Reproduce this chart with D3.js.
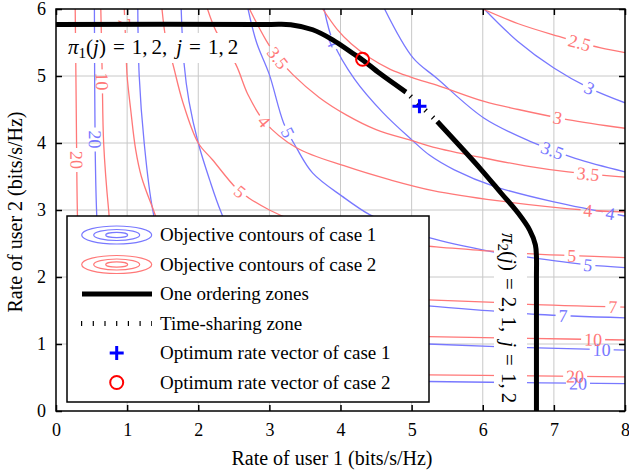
<!DOCTYPE html>
<html>
<head>
<meta charset="utf-8">
<script src="https://cdn.jsdelivr.net/npm/d3@7"></script>
<style>
body { margin: 0; background: #fff; }
svg text { font-family: "Liberation Serif", "Times New Roman", serif !important; }
</style>
</head>
<body>
<svg id="chart" width="629" height="474"></svg>
<script>
// ticks
const xTicks = [0, 1, 2, 3, 4, 5, 6, 7, 8];
const yTicks = [0, 1, 2, 3, 4, 5, 6];

// case 1 objective contours (blue)
const blue3 = [[6.02,6.0],[6.49,5.52],[7.0,5.12],[7.5,4.82],[8.0,4.6]];
const blue35 = [[4.62,6.0],[5.02,5.27],[5.35,4.97],[6.02,4.37],[6.7,4.01],[7.3,3.77],[8.0,3.57]];
const blue4 = [[3.77,6.0],[3.9,5.5],[4.2,4.95],[4.6,4.45],[5.0,4.05],[5.25,3.82],[5.6,3.6],[6.17,3.35],[7.0,3.12],[8.0,2.91]];
const blue5 = [[2.7,6.0],[2.82,5.5],[3.0,5.02],[3.2,4.3],[3.38,3.93],[3.61,3.55],[4.03,3.2],[4.41,2.93],[4.8,2.75],[5.23,2.59],[6.12,2.38],[6.61,2.3],[7.48,2.18],[8.0,2.14]];
const blue7 = [[1.76,6.0],[1.8,5.19],[1.87,4.62],[2.0,4.0],[2.16,3.45],[2.32,2.97],[2.55,2.45],[3.0,2.0],[4.0,1.72],[5.23,1.57],[6.17,1.49],[6.78,1.44],[8.0,1.39]];
const blue10 = [[1.15,6.0],[1.17,5.0],[1.24,4.0],[1.36,3.0],[1.6,2.0],[2.2,1.35],[3.5,1.06],[5.23,1.0],[6.64,0.945],[8.0,0.91]];
const blue20 = [[0.54,6.0],[0.55,4.0],[0.57,3.0],[0.62,2.0],[0.8,1.05],[1.5,0.6],[3.0,0.47],[5.23,0.44],[6.83,0.42],[8.0,0.41]];
const case1Levels = [3, 3.5, 4, 5, 7, 10, 20];
const case1Lines = [blue3, blue35, blue4, blue5, blue7, blue10, blue20];
const case1Labels = [[3,7.5,4.82],[3.5,6.97,3.87],[4,7.79,2.93],[4,3.87,5.49],[5,7.48,2.18],[5,3.24,4.15],
  [7,7.13,1.43],[10,7.67,0.91],[20,7.34,0.41],[20,0.55,4.05]];

// case 2 objective contours (red)
const red25 = [[6.0,6.0],[6.5,5.78],[7.07,5.59],[7.36,5.5],[7.66,5.42],[8.0,5.35]];
const red3 = [[3.75,6.0],[3.95,5.7],[4.15,5.48],[4.4,5.28],[4.7,5.1],[5.0,4.98],[5.39,4.85],[6.02,4.62],[6.5,4.5],[7.19,4.35],[8.0,4.22]];
const red35 = [[2.72,6.0],[2.95,5.54],[3.12,5.27],[3.33,5.02],[3.7,4.68],[4.08,4.42],[4.5,4.2],[5.02,4.03],[5.3,3.94],[6.0,3.78],[6.6,3.66],[7.2,3.57],[8.0,3.49]];
const red4 = [[2.13,6.0],[2.25,5.67],[2.53,5.17],[2.7,4.72],[2.93,4.32],[3.38,3.93],[4.08,3.65],[4.7,3.45],[5.3,3.29],[6.2,3.14],[7.44,3.0],[8.0,2.97]];
const red5 = [[1.49,6.0],[1.55,5.52],[1.64,5.19],[1.78,4.62],[2.0,4.0],[2.2,3.75],[2.53,3.33],[2.71,3.18],[3.0,3.0],[3.3,2.86],[3.8,2.7],[4.5,2.56],[5.23,2.46],[6.08,2.39],[6.61,2.35],[7.25,2.32],[8.0,2.29]];
const red7 = [[0.96,6.0],[0.98,5.5],[1.0,5.0],[1.05,4.5],[1.12,3.9],[1.2,3.5],[1.37,3.0],[1.6,2.4],[2.2,1.9],[3.5,1.72],[5.23,1.66],[6.17,1.62],[6.64,1.59],[8.0,1.55]];
const red10 = [[0.63,6.0],[0.65,5.0],[0.67,4.0],[0.74,3.0],[0.85,2.0],[1.3,1.35],[2.5,1.15],[5.23,1.11],[6.64,1.085],[8.0,1.06]];
const red20 = [[0.27,6.0],[0.28,5.0],[0.29,3.9],[0.3,3.0],[0.33,2.0],[0.45,1.0],[1.0,0.62],[3.0,0.55],[5.23,0.54],[8.0,0.51]];
const case2Levels = [2.5, 3, 3.5, 4, 5, 7, 10, 20];
const case2Lines = [red25, red3, red35, red4, red5, red7, red10, red20];
const case2Labels = [[2.5,7.36,5.49],[3,7.05,4.37],[3.5,7.48,3.52],[3.5,3.12,5.27],[4,7.48,2.97],[4,2.93,4.32],
  [5,7.25,2.33],[5,2.57,3.25],[7,7.83,1.56],[7,0.97,5.8],[10,7.55,1.07],[10,0.64,4.92],[20,7.3,0.5],[20,0.29,3.75]];

// rate region boundary
const ordering1 = [[0,5.77],[3.0,5.77],[3.3,5.765],[3.61,5.69],[3.89,5.54],[4.17,5.34],[4.31,5.24],[4.55,5.04],[4.92,4.76]];
const timeSharing = [[4.92,4.76],[5.36,4.32]];
const ordering2 = [[5.36,4.32],[5.98,3.6],[6.26,3.25],[6.5,2.95],[6.66,2.7],[6.74,2.48],[6.755,2.3],[6.755,2.0],[6.755,0]];
const optCase1 = [5.11, 4.55];
const optCase2 = [4.31, 5.25];

const legendNames = ["Objective contours of case 1", "Objective contours of case 2", "One ordering zones",
  "Time-sharing zone", "Optimum rate vector of case 1", "Optimum rate vector of case 2"];

const W = 629, H = 474;
const blueCol = "rgb(120,120,255)", redCol = "rgb(255,120,120)";
const serif = '"Liberation Serif", "Times New Roman", serif';

const x = d3.scaleLinear().domain([0, 8]).range([56, 625]);
const y = d3.scaleLinear().domain([0, 6]).range([411, 9]);

const svg = d3.select("#chart");
const defs = svg.append("defs");
defs.append("clipPath").attr("id", "plotClip")
  .append("rect")
  .attr("x", x(0)).attr("y", y(6))
  .attr("width", x(8) - x(0)).attr("height", y(0) - y(6));

// grid
const grid = svg.append("g").attr("stroke", "#c8c8c8").attr("stroke-width", 1);
grid.selectAll("line.gx").data(xTicks.slice(1, -1)).join("line").attr("class", "gx")
  .attr("x1", d => x(d)).attr("x2", d => x(d)).attr("y1", y(0)).attr("y2", y(6));
grid.selectAll("line.gy").data(yTicks.slice(1, -1)).join("line").attr("class", "gy")
  .attr("y1", d => y(d)).attr("y2", d => y(d)).attr("x1", x(0)).attr("x2", x(8));

// contours with inline labels (line broken under its own label)
const curve = d3.line().x(d => x(d[0])).y(d => y(d[1])).curve(d3.curveCatmullRom.alpha(0.5));
const contourG = svg.append("g").attr("clip-path", "url(#plotClip)");
const labelG = svg.append("g");

function drawCase(levels, lines, labels, color, tag) {
  lines.forEach((pts, i) => {
    const lev = levels[i];
    const path = contourG.append("path")
      .attr("d", curve(pts))
      .attr("fill", "none")
      .attr("stroke", color)
      .attr("stroke-width", 1.3);
    const node = path.node();
    const total = node.getTotalLength();
    const mine = labels.filter(l => l[0] === lev);
    if (!mine.length) return;
    const mask = defs.append("mask").attr("id", `m-${tag}-${i}`)
      .attr("maskUnits", "userSpaceOnUse")
      .attr("x", 0).attr("y", 0).attr("width", W).attr("height", H);
    mask.append("rect").attr("width", W).attr("height", H).attr("fill", "#fff");
    mine.forEach(l => {
      const px = x(l[1]), py = y(l[2]);
      let best = 0, bd = Infinity;
      for (let s = 0; s <= total; s += 0.5) {
        const p = node.getPointAtLength(s);
        const d = (p.x - px) ** 2 + (p.y - py) ** 2;
        if (d < bd) { bd = d; best = s; }
      }
      const p = node.getPointAtLength(best);
      const a = node.getPointAtLength(Math.max(0, best - 5));
      const b = node.getPointAtLength(Math.min(total, best + 5));
      const ang = Math.atan2(b.y - a.y, b.x - a.x) * 180 / Math.PI;
      const tr = `translate(${p.x},${p.y}) rotate(${ang})`;
      const t = labelG.append("text")
        .attr("transform", tr)
        .attr("text-anchor", "middle")
        .attr("dy", "0.35em")
        .attr("font-size", 18)
        .attr("fill", color)
        .text(lev);
      const w = t.node().getComputedTextLength();
      mask.append("rect")
        .attr("x", -w / 2 - 3).attr("y", -7)
        .attr("width", w + 6).attr("height", 14)
        .attr("transform", tr)
        .attr("fill", "#000");
    });
    path.attr("mask", `url(#m-${tag}-${i})`);
  });
}
drawCase(case1Levels, case1Lines, case1Labels, blueCol, "b");
drawCase(case2Levels, case2Lines, case2Labels, redCol, "r");

// white boxes behind the two annotations
svg.append("rect").attr("x", 66).attr("y", 33).attr("width", 174).attr("height", 30).attr("fill", "#fff");
svg.append("rect").attr("x", 494).attr("y", 228).attr("width", 33).attr("height", 177).attr("fill", "#fff");

// boundary
const bound = svg.append("g").attr("clip-path", "url(#plotClip)");
bound.append("path").attr("d", curve(ordering1))
  .attr("fill", "none").attr("stroke", "#000").attr("stroke-width", 5);
bound.append("path").attr("d", curve(ordering2))
  .attr("fill", "none").attr("stroke", "#000").attr("stroke-width", 5);
bound.append("path").attr("d", d3.line().x(d => x(d[0])).y(d => y(d[1]))(timeSharing))
  .attr("fill", "none").attr("stroke", "#000").attr("stroke-width", 5)
  .attr("stroke-dasharray", "1.2 9").attr("stroke-dashoffset", -6);

// optima
svg.append("path")
  .attr("transform", `translate(${x(optCase1[0])},${y(optCase1[1])})`)
  .attr("d", "M-7,0H7M0,-7V7")
  .attr("stroke", "#0000ff").attr("stroke-width", 3).attr("fill", "none");
svg.append("circle")
  .attr("cx", x(optCase2[0])).attr("cy", y(optCase2[1])).attr("r", 6.5)
  .attr("stroke", "#ff0000").attr("stroke-width", 2).attr("fill", "none");

// annotations: pi_k(j) = ..., j = 1, 2
function mathText(g, sub, vals) {
  const t = g.append("text").attr("font-size", 21).attr("fill", "#000");
  t.append("tspan").attr("font-style", "italic").text("π");
  t.append("tspan").attr("font-size", 15).attr("dy", 4).text(sub);
  t.append("tspan").attr("dy", -4).text("(");
  t.append("tspan").attr("font-style", "italic").text("j");
  t.append("tspan").text(")");
  t.append("tspan").attr("dx", 7).text("=");
  t.append("tspan").attr("dx", 7).text(vals[0] + ",");
  t.append("tspan").attr("dx", 4).text(vals[1] + ",");
  t.append("tspan").attr("dx", 9).attr("font-style", "italic").text("j");
  t.append("tspan").attr("dx", 7).text("=");
  t.append("tspan").attr("dx", 7).text("1,");
  t.append("tspan").attr("dx", 4).text("2");
  return t;
}
mathText(svg.append("g").attr("transform", "translate(68,54)"), "1", ["1", "2"]);
mathText(svg.append("g").attr("transform", "translate(502,233) rotate(90)"), "2", ["2", "1"]);

// legend
const lg = svg.append("g");
lg.append("rect").attr("x", 67).attr("y", 216).attr("width", 362).attr("height", 186)
  .attr("fill", "#fff").attr("stroke", "#000").attr("stroke-width", 1.5);
const rowY = i => 235 + i * 29.5;
const iconX = 116.7;
[[blueCol, 0], [redCol, 1]].forEach(([c, i]) => {
  [[35, 9], [23, 5.5], [11, 2.7]].forEach(([rx, ry]) => {
    lg.append("ellipse").attr("cx", iconX).attr("cy", rowY(i)).attr("rx", rx).attr("ry", ry)
      .attr("fill", "none").attr("stroke", c).attr("stroke-width", 1.2);
  });
});
lg.append("line").attr("x1", 82).attr("x2", 152).attr("y1", rowY(2)).attr("y2", rowY(2))
  .attr("stroke", "#000").attr("stroke-width", 5);
lg.append("line").attr("x1", 81).attr("x2", 152).attr("y1", rowY(3)).attr("y2", rowY(3))
  .attr("stroke", "#000").attr("stroke-width", 5).attr("stroke-dasharray", "1.2 10.5");
lg.append("path").attr("transform", `translate(${iconX},${rowY(4)})`)
  .attr("d", "M-7,0H7M0,-7V7").attr("stroke", "#0000ff").attr("stroke-width", 3);
lg.append("circle").attr("cx", iconX).attr("cy", rowY(5)).attr("r", 6.5)
  .attr("fill", "none").attr("stroke", "#ff0000").attr("stroke-width", 2);
lg.selectAll("text.leg").data(legendNames).join("text").attr("class", "leg")
  .attr("x", 160).attr("y", (d, i) => rowY(i) + 6)
  .attr("font-size", 19).attr("fill", "#000")
  .text(d => d);

// frame and axes
svg.append("rect").attr("x", x(0)).attr("y", y(6))
  .attr("width", x(8) - x(0)).attr("height", y(0) - y(6))
  .attr("fill", "none").attr("stroke", "#000").attr("stroke-width", 1.5);

function styleAxis(g) {
  g.select(".domain").remove();
  g.selectAll(".tick line").attr("stroke", "#000").attr("stroke-width", 1.5);
  g.attr("font-family", serif).attr("font-size", 18);
  g.selectAll(".tick text").attr("fill", "#000").style("font-family", serif).attr("font-size", 18);
}
svg.append("g").attr("transform", `translate(0,${y(0)})`)
  .call(d3.axisBottom(x).tickValues(xTicks).tickFormat(d3.format("d")).tickSize(-6).tickPadding(12))
  .call(styleAxis);
svg.append("g").attr("transform", `translate(0,${y(6)})`)
  .call(d3.axisTop(x).tickValues(xTicks).tickSize(-6).tickFormat("")).call(styleAxis);
svg.append("g").attr("transform", `translate(${x(0)},0)`)
  .call(d3.axisLeft(y).tickValues(yTicks).tickFormat(d3.format("d")).tickSize(-6).tickPadding(10))
  .call(styleAxis);
svg.append("g").attr("transform", `translate(${x(8)},0)`)
  .call(d3.axisRight(y).tickValues(yTicks).tickSize(-6).tickFormat("")).call(styleAxis);

svg.append("text").attr("x", 332).attr("y", 465).attr("text-anchor", "middle")
  .attr("font-size", 20).text("Rate of user 1 (bits/s/Hz)");
svg.append("text").attr("transform", "translate(22,212) rotate(-90)").attr("text-anchor", "middle")
  .attr("font-size", 20).text("Rate of user 2 (bits/s/Hz)");
</script>
</body>
</html>
